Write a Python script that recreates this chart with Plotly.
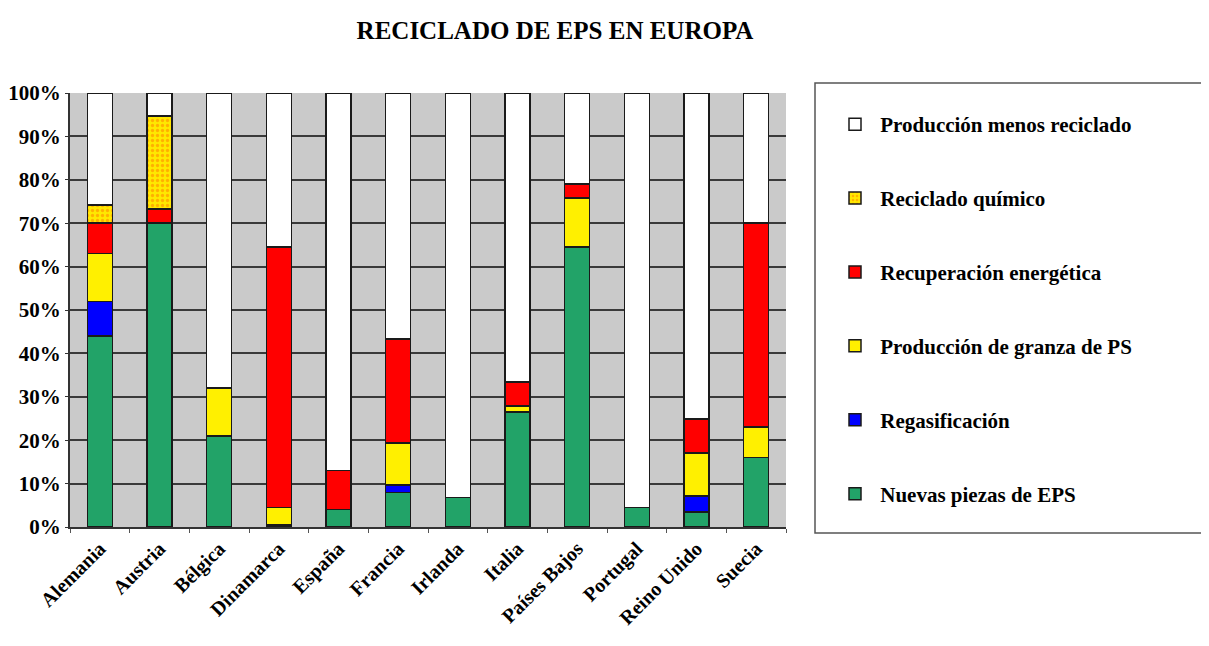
import plotly.graph_objects as go

countries = ["Alemania", "Austria", "Bélgica", "Dinamarca", "España", "Francia",
             "Irlanda", "Italia", "Países Bajos", "Portugal", "Reino Unido", "Suecia"]

nuevas_piezas = [44, 70, 21, 0.5, 4, 8, 6.8, 26.5, 64.5, 4.5, 3.5, 16]
regasificacion = [8, 0, 0, 0, 0, 1.7, 0, 0, 0, 0, 3.6, 0]
granza_ps = [11, 0, 11, 4, 0, 9.6, 0, 1.4, 11.3, 0, 9.9, 7]
recuperacion = [7, 3.3, 0, 60, 9, 24, 0, 5.5, 3.2, 0, 7.9, 47]
reciclado_quimico = [4.2, 21.4, 0, 0, 0, 0, 0, 0, 0, 0, 0, 0]
produccion_menos = [100 - sum(v) for v in zip(nuevas_piezas, regasificacion, granza_ps,
                                             recuperacion, reciclado_quimico)]

series = [
    ("Nuevas piezas de EPS", nuevas_piezas, "#22a368", None),
    ("Regasificación", regasificacion, "#0000ff", None),
    ("Producción de granza de PS", granza_ps, "#fff000", None),
    ("Recuperación energética", recuperacion, "#ff0000", None),
    ("Reciclado químico", reciclado_quimico, "#ffe800", "#ff7a00"),
    ("Producción menos reciclado", produccion_menos, "#ffffff", None),
]

SERIF = "Liberation Serif"

fig = go.Figure()
n = len(series)
for i, (name, vals, color, pat) in enumerate(series):
    marker = dict(color=color, line=dict(color="#1a1a1a", width=1.5))
    if pat:
        marker["pattern"] = dict(shape=".", fgcolor=pat, size=5, solidity=0.35)
    fig.add_trace(go.Bar(
        x=countries, y=vals, name=" " + name, marker=marker,
        legendgroup=f"g{i}", legendrank=n - i,
    ))

# page offset of the plot div (browser body margin)
OFF = 8
W, H = 1209 - OFF, 646 - OFF
L = 70 - OFF
R = W - (786 - OFF)
T = 93 - OFF
B = H - (527 - OFF)
pw, ph = W - L - R, H - T - B

def px_x(x):
    return (x - OFF - L) / pw

def px_y(y):
    return (H - B - (y - OFF)) / ph

fig.update_layout(
    width=W, height=H,
    barmode="stack", bargap=0.58,
    plot_bgcolor="#cacaca", paper_bgcolor="white",
    margin=dict(l=L, r=R, t=T, b=B, autoexpand=False),
    title=dict(text="RECICLADO DE EPS EN EUROPA", x=(555 - OFF) / W, xanchor="center",
               y=1 - (30 - OFF) / H, yanchor="middle",
               font=dict(family=SERIF, size=25, color="black", weight=700)),
    legend=dict(traceorder="grouped", xref="container", yref="container",
                x=(835 - OFF) / W, xanchor="left",
                y=1 - (104 - OFF) / H, yanchor="top", maxheight=600,
                font=dict(family=SERIF, size=21, color="black", weight=700),
                bgcolor="rgba(0,0,0,0)", borderwidth=0, tracegroupgap=43.6),
    shapes=[dict(type="rect", xref="paper", yref="paper",
                 x0=px_x(815), x1=px_x(1206), y0=px_y(533), y1=px_y(83),
                 line=dict(color="#555555", width=1.5))],
    xaxis=dict(tickangle=-45, tickfont=dict(family=SERIF, size=20, color="black",
                                            weight=700),
               showline=True, linecolor="#333333", linewidth=2, automargin=False,
               ticks="outside", tickson="boundaries", ticklen=4, tickcolor="#555555",
               showgrid=False),
    yaxis=dict(range=[0, 100], dtick=10, ticksuffix="%", automargin=False,
               tickfont=dict(family=SERIF, size=21, color="black", weight=700),
               showline=True, linecolor="#333333", linewidth=2,
               ticks="outside", ticklen=3, tickcolor="#333333",
               showgrid=True, gridcolor="#3a3a3a", gridwidth=2, zeroline=False),
)

fig.write_html("out.html")
